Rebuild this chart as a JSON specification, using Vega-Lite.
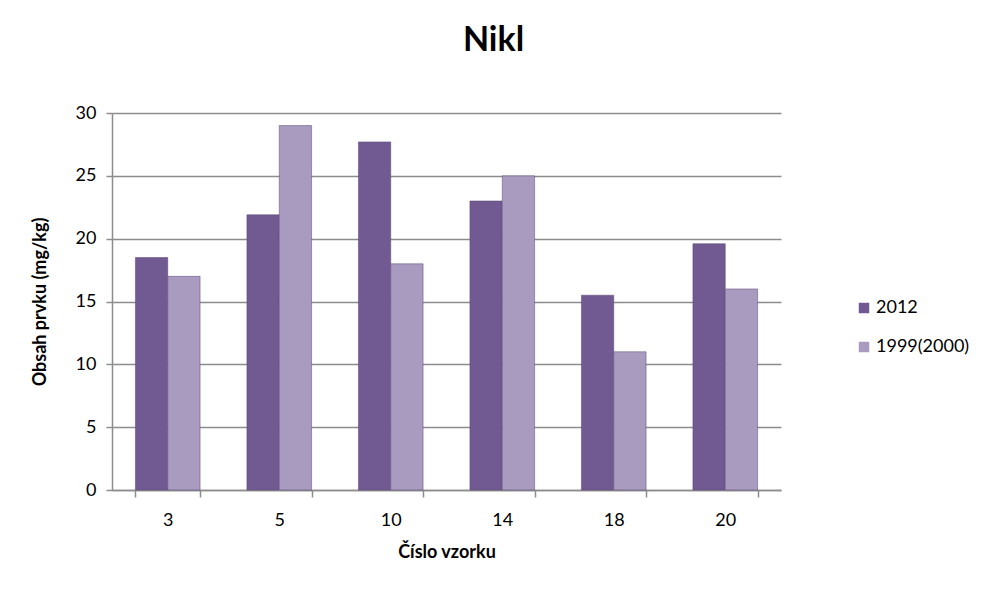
{
  "$schema": "https://vega.github.io/schema/vega-lite/v6.json",
  "width": 669,
  "height": 377,
  "autosize": {"type": "none"},
  "padding": {"left": 112, "top": 113, "right": 202, "bottom": 104},
  "background": "white",
  "title": {
    "text": "Nikl",
    "fontSize": 34,
    "fontWeight": "bold",
    "font": "Lato",
    "color": "#000000",
    "anchor": "middle",
    "frame": "group",
    "dx": 47,
    "offset": 46
  },
  "data": {
    "values": [
      {"vzorek": "3", "rok": "2012", "hodnota": 18.5},
      {"vzorek": "3", "rok": "1999(2000)", "hodnota": 17.0},
      {"vzorek": "5", "rok": "2012", "hodnota": 21.9},
      {"vzorek": "5", "rok": "1999(2000)", "hodnota": 29.0},
      {"vzorek": "10", "rok": "2012", "hodnota": 27.7},
      {"vzorek": "10", "rok": "1999(2000)", "hodnota": 18.0},
      {"vzorek": "14", "rok": "2012", "hodnota": 23.0},
      {"vzorek": "14", "rok": "1999(2000)", "hodnota": 25.0},
      {"vzorek": "18", "rok": "2012", "hodnota": 15.5},
      {"vzorek": "18", "rok": "1999(2000)", "hodnota": 11.0},
      {"vzorek": "20", "rok": "2012", "hodnota": 19.6},
      {"vzorek": "20", "rok": "1999(2000)", "hodnota": 16.0}
    ]
  },
  "mark": {"type": "bar", "stroke": "#5a4775", "strokeWidth": 0.5},
  "encoding": {
    "x": {
      "field": "vzorek",
      "type": "ordinal",
      "sort": ["3", "5", "10", "14", "18", "20"],
      "scale": {"paddingInner": 0.42, "paddingOuter": 0.21},
      "axis": {
        "title": "Číslo vzorku",
        "labelAngle": 0,
        "labelFontSize": 18,
        "labelFont": "Lato",
        "labelColor": "#000000",
        "labelPadding": 14,
        "titleFontSize": 18,
        "titleFont": "Lato",
        "titleFontWeight": "bold",
        "titleColor": "#000000",
        "titlePadding": 14,
        "domainColor": "#8c8c8c",
        "domainWidth": 1.5,
        "tickColor": "#8c8c8c",
        "tickWidth": 1.5,
        "tickSize": 7,
        "tickBand": "extent"
      }
    },
    "xOffset": {
      "field": "rok",
      "type": "nominal",
      "sort": ["2012", "1999(2000)"],
      "scale": {"paddingInner": 0, "paddingOuter": 0}
    },
    "y": {
      "field": "hodnota",
      "type": "quantitative",
      "scale": {"domain": [0, 30], "nice": false},
      "axis": {
        "title": "Obsah prvku (mg/kg)",
        "values": [0, 5, 10, 15, 20, 25, 30],
        "labelFontSize": 18,
        "labelFont": "Lato",
        "labelColor": "#000000",
        "labelPadding": 10,
        "titleFontSize": 18,
        "titleFont": "Lato",
        "titleFontWeight": "bold",
        "titleColor": "#000000",
        "titlePadding": 26,
        "domainColor": "#8c8c8c",
        "domainWidth": 1.5,
        "tickColor": "#8c8c8c",
        "tickWidth": 1.5,
        "tickSize": 6,
        "grid": true,
        "gridColor": "#8c8c8c",
        "gridWidth": 1.5
      }
    },
    "color": {
      "field": "rok",
      "type": "nominal",
      "scale": {"domain": ["2012", "1999(2000)"], "range": ["#715a91", "#a99bc0"]},
      "legend": {
        "title": null,
        "orient": "none",
        "legendX": 743,
        "legendY": 186,
        "symbolType": "square",
        "symbolSize": 110,
        "symbolStrokeWidth": 0,
        "labelFontSize": 18,
        "labelFont": "Lato",
        "labelColor": "#000000",
        "rowPadding": 21,
        "labelOffset": 3
      }
    }
  },
  "config": {
    "view": {"stroke": null}
  }
}
